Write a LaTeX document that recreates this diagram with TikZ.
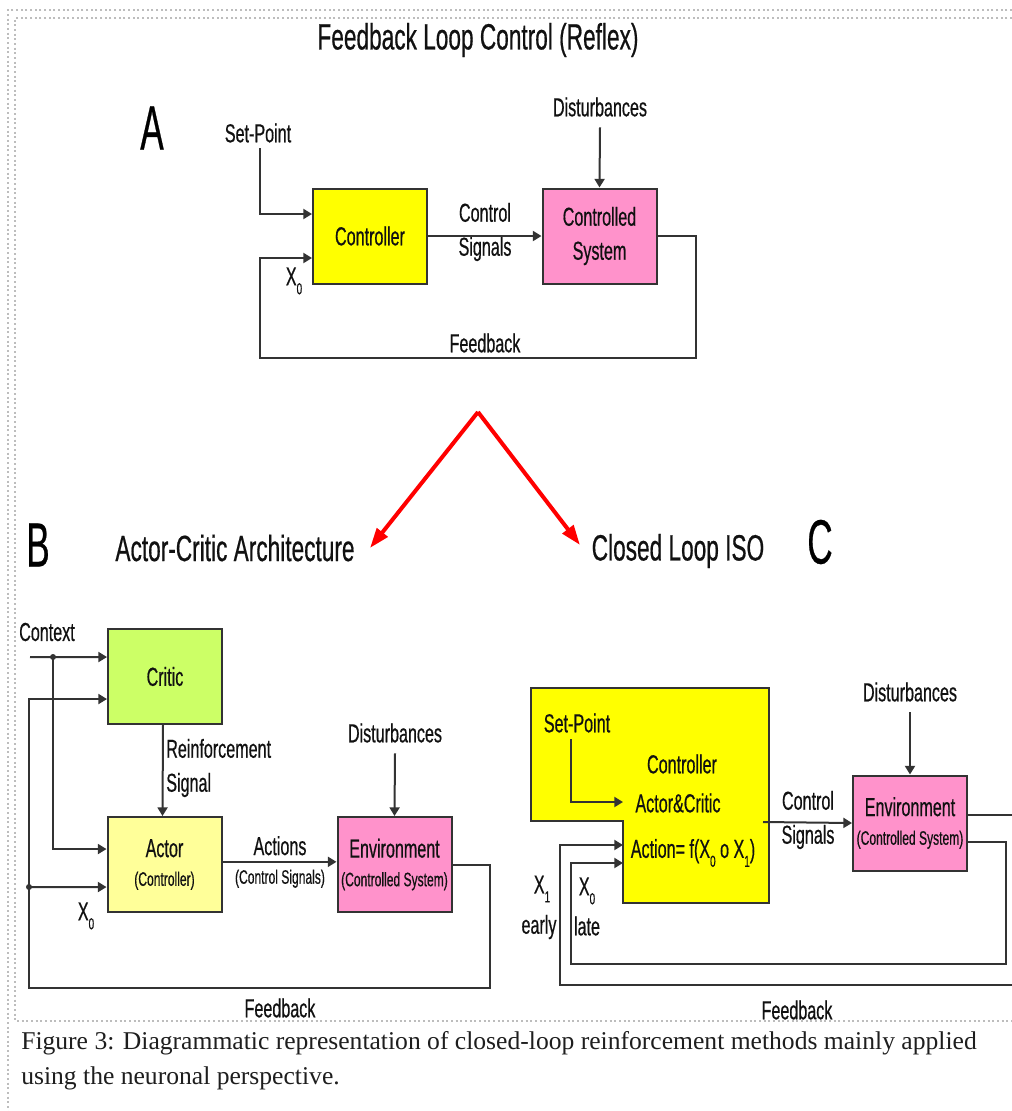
\documentclass[tikz,border=0pt]{standalone}
\usepackage{fontspec}
\usetikzlibrary{arrows.meta}
\setmainfont{Liberation Serif}
\newfontfamily\narrowsans[FakeStretch=0.62,FakeBold=0.5]{Liberation Sans}
\newfontfamily\lettersans[FakeStretch=0.56,FakeBold=0.4]{Liberation Sans}
\definecolor{edge}{HTML}{333333}
\definecolor{ink}{HTML}{111111}
\definecolor{pinkbox}{HTML}{FF92CB}
\definecolor{yellowbox}{HTML}{FFFF00}
\definecolor{palegreen}{HTML}{CCFF66}
\definecolor{paleyellow}{HTML}{FFFF99}
\definecolor{framegray}{HTML}{BDBDBD}
\definecolor{captionink}{HTML}{1E1E1E}
% lowered index digit for X_0, X_1
\newcommand\lowidx[1]{\raisebox{-0.65ex}{\fontsize{12}{12}\selectfont #1}}
\newcommand\minorsize{\fontsize{14.6}{17}\selectfont}

\begin{document}
\begin{tikzpicture}[x=0.75pt,y=-0.75pt,
  lbl/.style={font=\narrowsans\fontsize{19.5}{25.5}\selectfont, text=ink, inner sep=0pt, align=center},
  heading/.style={font=\narrowsans\fontsize{27.4}{33}\selectfont, text=ink, inner sep=0pt},
  panelletter/.style={font=\lettersans\fontsize{47}{50}\selectfont, text=black, inner sep=0pt},
  block/.style={lbl, draw=edge, line width=1.5pt, minimum width=85.5pt, minimum height=71.25pt, inner sep=0pt},
  wire/.style={draw=edge, line width=1.5pt},
  sig/.style={wire, -{Triangle[length=6.5pt,width=7.5pt]}},
  branch/.style={draw=red, line width=3pt, -{Triangle[length=15pt,width=10pt]}},
  junction/.style={circle, fill=edge, inner sep=0pt, minimum size=4.5pt},
  pageframe/.style={draw=framegray, line width=1.5pt, dotted},
  captiontext/.style={font=\fontsize{19.2}{26}\selectfont, text=captionink, inner sep=0pt, anchor=west}
]
\useasboundingbox (0,0) rectangle (1012,1111);
\fill[white] (0,0) rectangle (1012,1111);
\clip (0,0) rectangle (1012,1111);

% dotted frames
\draw[pageframe] (1012,10) -- (8,10) -- (8,1111);
\draw[pageframe] (1012,18) -- (15,18) -- (15,1021) -- (1012,1021);

% ---------- A: feedback loop control ----------
\node[heading] (title) at (478,40) {Feedback Loop Control (Reflex)};
\node[panelletter] (labA) at (152,128) {A};

\node[block, fill=yellowbox] (ctrlA) at (370,236) {Controller};
\node[block, fill=pinkbox] (plantA) at (599.5,236) {Controlled\\System};
\node[lbl] (spA) at (258,133) {Set-Point};
\node[lbl] (distA) at (600,107) {Disturbances};
\node[lbl] (csA) at (485,232) {Control\\Signals};
\node[lbl] (fbA) at (485,343) {Feedback};
\node[lbl] (x0A) at (294,281) {X\lowidx{0}};

\coordinate (spA-top) at (260,148);
\coordinate (fbA-r) at (696,358);
\coordinate (fbA-l) at (260,358);
\draw[sig] (spA-top) |- ([yshift=16.5pt]ctrlA.west);
\draw[sig] (ctrlA.east) -- (plantA.west);
\draw[sig] ([yshift=-8pt]distA.south) -- (plantA.north);
\draw[sig] (plantA.east) -| (fbA-r) -- (fbA-l) |- ([yshift=-16.5pt]ctrlA.west);

% ---------- branching arrows ----------
\node[panelletter] (labB) at (38,545) {B};
\node[heading] (acTitle) at (235,548) {Actor-Critic Architecture};
\node[heading] (isoTitle) at (678,551) {Closed Loop ISO};
\node[panelletter] (labC) at (820,542) {C};
\coordinate (fork) at (478,412);
\coordinate (forkL) at (370,548);
\coordinate (forkR) at (580,545);
\draw[branch] (fork) -- (forkL);
\draw[branch] (fork) -- (forkR);

% ---------- B: actor-critic ----------
\node[block, fill=palegreen] (critic) at (165,676.5) {Critic};
\node[block, fill=paleyellow] (actor) at (164.5,864.5) {Actor\\[-4pt]{\minorsize(Controller)}};
\node[block, fill=pinkbox] (envB) at (394.5,864.5) {Environment\\[-4pt]{\minorsize(Controlled System)}};
\node[lbl] (ctxB) at (47,632) {Context};
\node[lbl, anchor=west, align=left] (rsB) at (166,768) {Reinforcement\\Signal};
\node[lbl] (distB) at (395,733) {Disturbances};
\node[lbl] (actB) at (280,862) {Actions\\[-4pt]{\minorsize(Control Signals)}};
\node[lbl] (x0B) at (86,916) {X\lowidx{0}};
\node[lbl] (fbB) at (280,1008) {Feedback};

\coordinate (ctxStart) at (30,657);
\node[junction] (ctxJ) at (53,657) {};
\node[junction] (x0J) at (29,887) {};
\coordinate (fbB-r) at (490,988);
\coordinate (fbB-l) at (29,988);
\draw[sig] (ctxStart) -- ([yshift=14.6pt]critic.west);
\draw[sig] (ctxJ.center) |- ([yshift=11.6pt]actor.west);
\draw[sig] (x0J.center) -- ([yshift=-16.9pt]actor.west);
\draw[sig] (envB.east) -| (fbB-r) -- (fbB-l) |- ([yshift=-16.9pt]critic.west);
\draw[sig] ([xshift=-1.5pt]critic.south) -- ([xshift=-1.5pt]actor.north);
\draw[sig] ([yshift=2pt]actor.east) -- ([yshift=2pt]envB.west);
\draw[sig] ([yshift=-8pt]distB.south) -- (envB.north);

% ---------- C: closed loop ISO ----------
\path[wire, fill=yellowbox] (531,688) -- (769,688) -- (769,903) -- (623,903) -- (623,821) -- (531,821) -- cycle;
\node[lbl] (spC) at (577,723) {Set-Point};
\node[lbl] (ctrlC) at (682,764) {Controller};
\node[lbl] (acC) at (678,803) {Actor\&Critic};
\node[lbl] (actionC) at (693,853) {Action= f(X\lowidx{0} o X\lowidx{1})};
\node[block, fill=pinkbox] (envC) at (910,823) {Environment\\[-4pt]{\minorsize(Controlled System)}};
\node[lbl] (csC) at (808,820) {Control\\Signals};
\node[lbl] (distC) at (910,692) {Disturbances};
\node[lbl] (x1C) at (542,889) {X\lowidx{1}};
\node[lbl] (earlyC) at (539,927) {early};
\node[lbl] (x0C) at (587,891) {X\lowidx{0}};
\node[lbl] (lateC) at (587,926) {late};
\node[lbl] (fbC) at (797,1010) {Feedback};

\coordinate (spC-top) at (571,739);
\coordinate (acIn) at (623,802);
\coordinate (csStart) at (763,822);
\coordinate (edgeTop) at (1030,815);
\coordinate (edgeBot) at (1030,985);
\coordinate (earlyL) at (560,985);
\coordinate (earlyIn) at (623,845);
\coordinate (lateR) at (1006,964);
\coordinate (lateL) at (571,964);
\coordinate (lateIn) at (623,863);
\draw[sig] (spC-top) |- (acIn);
\draw[sig] (csStart) -- (envC.west);
\draw[sig] ([yshift=-8pt]distC.south) -- (envC.north);
\draw[sig] ([yshift=6pt]envC.east) -- (edgeTop) -- (edgeBot) -- (earlyL) |- (earlyIn);
\draw[sig] ([yshift=-14.25pt]envC.east) -| (lateR) -- (lateL) |- (lateIn);

% ---------- caption ----------
\node[captiontext] (cap1) at (21,1043) {Figure 3: Diagrammatic representation of closed-loop reinforcement methods mainly applied};
\node[captiontext] (cap2) at (21,1078) {using the neuronal perspective.};
\end{tikzpicture}
\end{document}
